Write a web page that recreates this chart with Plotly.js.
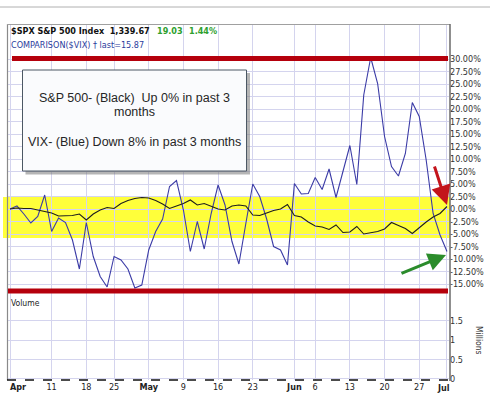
<!DOCTYPE html>
<html>
<head>
<meta charset="utf-8">
<script src="https://cdn.plot.ly/plotly-3.0.1.min.js"></script>
<style>
html,body{margin:0;padding:0;background:#fff;}
#chart{width:490px;height:395px;}
</style>
</head>
<body>
<div id="chart"></div>
<script>
// Trading days, 1 Apr 2011 - 1 Jul 2011
const dates = [
  '2011-04-01','2011-04-04','2011-04-05','2011-04-06','2011-04-07','2011-04-08',
  '2011-04-11','2011-04-12','2011-04-13','2011-04-14','2011-04-15',
  '2011-04-18','2011-04-19','2011-04-20','2011-04-21',
  '2011-04-25','2011-04-26','2011-04-27','2011-04-28','2011-04-29',
  '2011-05-02','2011-05-03','2011-05-04','2011-05-05','2011-05-06',
  '2011-05-09','2011-05-10','2011-05-11','2011-05-12','2011-05-13',
  '2011-05-16','2011-05-17','2011-05-18','2011-05-19','2011-05-20',
  '2011-05-23','2011-05-24','2011-05-25','2011-05-26','2011-05-27',
  '2011-05-31',
  '2011-06-01','2011-06-02','2011-06-03',
  '2011-06-06','2011-06-07','2011-06-08','2011-06-09','2011-06-10',
  '2011-06-13','2011-06-14','2011-06-15','2011-06-16','2011-06-17',
  '2011-06-20','2011-06-21','2011-06-22','2011-06-23','2011-06-24',
  '2011-06-27','2011-06-28','2011-06-29','2011-06-30',
  '2011-07-01'
];

// S&P 500 (black), % change since 1 Apr
const spxPct = [
  0, 0.2, 0.1, 0.1, -0.2, -0.5, -0.8, -1.4, -1.3, -1.3,
  -1.0, -2.2, -1.0, -0.2, 0.3, 0.1, 1.1, 1.7, 2.1, 2.3,
  2.2, 1.7, 1.0, 0.1, 0.6, 1.1, 1.8, 0.8, 1.1, 0.5,
  0.0, -0.2, 0.6, 0.8, 0.6, -1.2, -1.3, -0.8, -0.3, 0.0,
  0.9, -1.3, -1.6, -2.6, -3.4, -3.6, -4.1, -3.2, -4.7, -4.6,
  -3.5, -5.0, -4.7, -4.5, -4.0, -2.7, -3.3, -3.9, -4.9, -3.7,
  -2.6, -1.6, -0.9, 0.5
];

// VIX comparison (blue), % change since 1 Apr
const vixPct = [
  0, 0.6, -1.0, -2.8, -1.5, 2.8, -4.5, -1.8, -2.7, -6.2,
  -12.0, -2.7, -9.5, -13.5, -15.6, -9.5, -10.2, -12.0, -15.8, -15.2,
  -8.2, -4.5, -2.0, 4.5, 5.7, -0.2, -8.5, -2.5, -8.0, -0.9,
  4.8, 0.8, -6.5, -11.0, -2.9, 5.0, 2.5, -2.0, -7.5, -8.2,
  -11.2, 5.1, 3.0, 3.1, 6.3, 3.9, 8.0, 2.3, 7.5, 12.7,
  4.9, 22.8, 30.3, 25.1, 14.5, 8.5, 6.6, 11.1, 21.3, 18.5,
  9.8, -0.9, -5.2, -8.5
];

// X-axis ticks (dates) and their labels
const xTickDates = ['2011-04-01','2011-04-11','2011-04-18','2011-04-25','2011-05-02','2011-05-09','2011-05-16',
  '2011-05-23','2011-06-01','2011-06-06','2011-06-13','2011-06-20','2011-06-27','2011-07-01'];
const xTickText = ['','11','18','25','<b>May</b>','9','16','23','<b>Jun</b>','6','13','20','27',''];
const firstMonthLabel = '<b>Apr</b>';
const lastMonthLabel = '<b>Jul</b>';

// Y-axis ticks (percent)
const pctTickVals = [30,27.5,25,22.5,20,17.5,15,12.5,10,7.5,5,2.5,0,-2.5,-5,-7.5,-10,-12.5,-15];
const pctTickText = ['30.00%','27.50%','25.00%','22.50%','20.00%','17.50%','15.00%','12.50%','10.00%',
  '7.50%','5.00%','2.50%','0.00%','-2.50%','-5.00%','-7.50%','-10.00%','-12.50%','-15.00%'];
const volTickVals = [0, 0.5, 1, 1.5];
const volTickText = ['0','0.5','1','1.5'];

// Reference levels
const upperLevel = 30.1, lowerLevel = -16.4;
const bandTop = 2.4, bandBottom = -5.8;

// trading-day position of each date (the chart skips non-trading days)
const dayIndex = dates.map((d, i) => i);
const xTickVals = xTickDates.map(d => dates.indexOf(d));

const W = 490, H = 395;
const px = x => x / W;
const py = y => 1 - y / H;

const fam = "'DejaVu Sans Condensed', 'DejaVu Sans', sans-serif";
const tickFont = {family: fam, size: 9, color: '#333'};
const gridCol = '#d4d4ee';

const traces = [
  {x: dayIndex, y: vixPct, text: dates, xaxis: 'x', yaxis: 'y', type: 'scatter', mode: 'lines',
   line: {color: '#3b3ba6', width: 1.1}, hoverinfo: 'skip'},
  {x: dayIndex, y: spxPct, text: dates, xaxis: 'x', yaxis: 'y', type: 'scatter', mode: 'lines',
   line: {color: '#1e1e1e', width: 1.1}, hoverinfo: 'skip'},
  {x: [], y: [], xaxis: 'x2', yaxis: 'y2', type: 'scatter', mode: 'lines', hoverinfo: 'skip'}
];

const xCommon = {
  type: 'linear', range: [-0.29, 63.29], domain: [px(8), px(449)],
  tickmode: 'array', tickvals: xTickVals, ticktext: xTickText, showgrid: true, gridcolor: gridCol, gridwidth: 1,
  zeroline: false, showline: false, ticks: '', fixedrange: true
};

const layout = {
  width: W, height: H,
  margin: {l: 0, r: 0, t: 0, b: 0},
  paper_bgcolor: '#ffffff', plot_bgcolor: 'rgba(0,0,0,0)',
  showlegend: false,
  xaxis: Object.assign({}, xCommon, {anchor: 'y', showticklabels: false}),
  xaxis2: Object.assign({}, xCommon, {anchor: 'y2', showticklabels: true,
    tickfont: {family: fam, size: 9, color: '#222'}}),
  yaxis: {
    domain: [py(296), py(24)], range: [-17.4, 37], side: 'right', anchor: 'x',
    tickmode: 'array', tickvals: pctTickVals, ticktext: pctTickText, tickfont: tickFont,
    showgrid: true, gridcolor: gridCol, zeroline: false, showline: false, ticks: '', fixedrange: true
  },
  yaxis2: {
    domain: [py(380), py(296)], range: [-0.026, 2.139], side: 'right', anchor: 'x2',
    tickmode: 'array', tickvals: volTickVals, ticktext: volTickText, tickfont: tickFont,
    showgrid: true, gridcolor: gridCol, zeroline: false, showline: false, ticks: '', fixedrange: true
  },
  shapes: [
    {type: 'rect', layer: 'below', xref: 'paper', yref: 'y', x0: px(3), x1: px(450),
     y0: bandBottom, y1: bandTop, fillcolor: '#ffff3a', line: {width: 0}},
    {type: 'line', xref: 'paper', yref: 'paper', x0: 0, x1: 1, y0: py(7), y1: py(7),
     line: {color: '#b0b0b0', width: 1}},
    {type: 'line', xref: 'paper', yref: 'paper', x0: px(7.5), x1: px(7.5), y0: py(24), y1: py(380),
     line: {color: '#8a8a8a', width: 1.2}},
    {type: 'line', xref: 'paper', yref: 'paper', x0: px(7), x1: px(450), y0: py(24.5), y1: py(24.5),
     line: {color: '#a0a0a0', width: 1}},
    {type: 'line', xref: 'paper', yref: 'paper', x0: px(450), x1: px(450), y0: py(24), y1: py(381),
     line: {color: '#6a6a6a', width: 1.5}},
    {type: 'line', xref: 'paper', yref: 'paper', x0: px(7), x1: px(450), y0: py(380), y1: py(380),
     line: {color: '#111', width: 1.5, dash: 'dash'}},
    {type: 'line', layer: 'above', xref: 'paper', yref: 'y', x0: px(12), x1: px(448),
     y0: upperLevel, y1: upperLevel, line: {color: '#b5000c', width: 5}},
    {type: 'line', layer: 'above', xref: 'paper', yref: 'y', x0: px(8), x1: px(448),
     y0: lowerLevel, y1: lowerLevel, line: {color: '#b5000c', width: 5}},
    {type: 'rect', layer: 'above', xref: 'paper', yref: 'paper', x0: px(25.5), x1: px(250),
     y0: py(174.5), y1: py(73), fillcolor: 'rgba(120,120,120,0.55)', line: {width: 0}},
    {type: 'rect', layer: 'above', xref: 'paper', yref: 'paper', x0: px(22.5), x1: px(246.5),
     y0: py(171), y1: py(70), fillcolor: '#fafbfd', line: {color: '#4c5864', width: 1}}
  ],
  annotations: [
    {xref: 'paper', yref: 'paper', x: px(8.5), y: py(31), xanchor: 'left', yanchor: 'middle', showarrow: false,
     text: '<b>$SPX S&amp;P 500 Index\u00a0 1,339.67</b>', font: {family: fam, size: 9, color: '#111'}},
    {xref: 'paper', yref: 'paper', x: px(154.5), y: py(31), xanchor: 'left', yanchor: 'middle', showarrow: false,
     text: '<b>19.03</b>', font: {family: fam, size: 9, color: '#2ea02e'}},
    {xref: 'paper', yref: 'paper', x: px(186.5), y: py(31), xanchor: 'left', yanchor: 'middle', showarrow: false,
     text: '<b>1.44%</b>', font: {family: fam, size: 9, color: '#2ea02e'}},
    {xref: 'paper', yref: 'paper', x: px(8.5), y: py(44.5), xanchor: 'left', yanchor: 'middle', showarrow: false,
     text: 'COMPARISON($VIX) \u2020 last=15.87', font: {family: fam, size: 9, color: '#2a3c9c'}},
    {xref: 'paper', yref: 'paper', x: px(134), y: py(98), xanchor: 'center', yanchor: 'middle', showarrow: false,
     text: 'S&amp;P 500- (Black)\u00a0 Up 0% in past 3',
     font: {family: "'Liberation Sans', Arial, sans-serif", size: 12.5, color: '#262626'}},
    {xref: 'paper', yref: 'paper', x: px(134), y: py(112.5), xanchor: 'center', yanchor: 'middle', showarrow: false,
     text: 'months', font: {family: "'Liberation Sans', Arial, sans-serif", size: 12.5, color: '#262626'}},
    {xref: 'paper', yref: 'paper', x: px(134), y: py(141.5), xanchor: 'center', yanchor: 'middle', showarrow: false,
     text: 'VIX- (Blue) Down 8% in past 3 months',
     font: {family: "'Liberation Sans', Arial, sans-serif", size: 12.5, color: '#262626'}},
    {xref: 'paper', yref: 'paper', x: px(8.5), y: py(302.5), xanchor: 'left', yanchor: 'middle', showarrow: false,
     text: 'Volume', font: {family: fam, size: 8.5, color: '#222'}},
    {xref: 'paper', yref: 'paper', x: px(479), y: py(340), xanchor: 'center', yanchor: 'middle', showarrow: false,
     textangle: 90, text: 'Millions', font: {family: fam, size: 8.5, color: '#333'}},
    {xref: 'paper', yref: 'paper', x: px(18), y: py(387), xanchor: 'center', yanchor: 'middle', showarrow: false,
     text: firstMonthLabel, font: {family: fam, size: 9, color: '#222'}},
    {xref: 'paper', yref: 'paper', x: px(451.5), y: py(388), xanchor: 'right', yanchor: 'middle', showarrow: false,
     text: lastMonthLabel, font: {family: fam, size: 9, color: '#222'}},
    {xref: 'paper', yref: 'paper', x: px(447), y: py(205), ax: -13, ay: -40, text: '', showarrow: true,
     arrowhead: 2, arrowsize: 1.3, arrowwidth: 3, arrowcolor: '#c3141c', standoff: 0},
    {xref: 'paper', yref: 'paper', x: px(446), y: py(255), ax: -46, ay: 19, text: '', showarrow: true,
     arrowhead: 2, arrowsize: 1.2, arrowwidth: 3, arrowcolor: '#2b8c2b', standoff: 0}
  ]
};

Plotly.newPlot('chart', traces, layout, {staticPlot: true, displayModeBar: false});
</script>
</body>
</html>
